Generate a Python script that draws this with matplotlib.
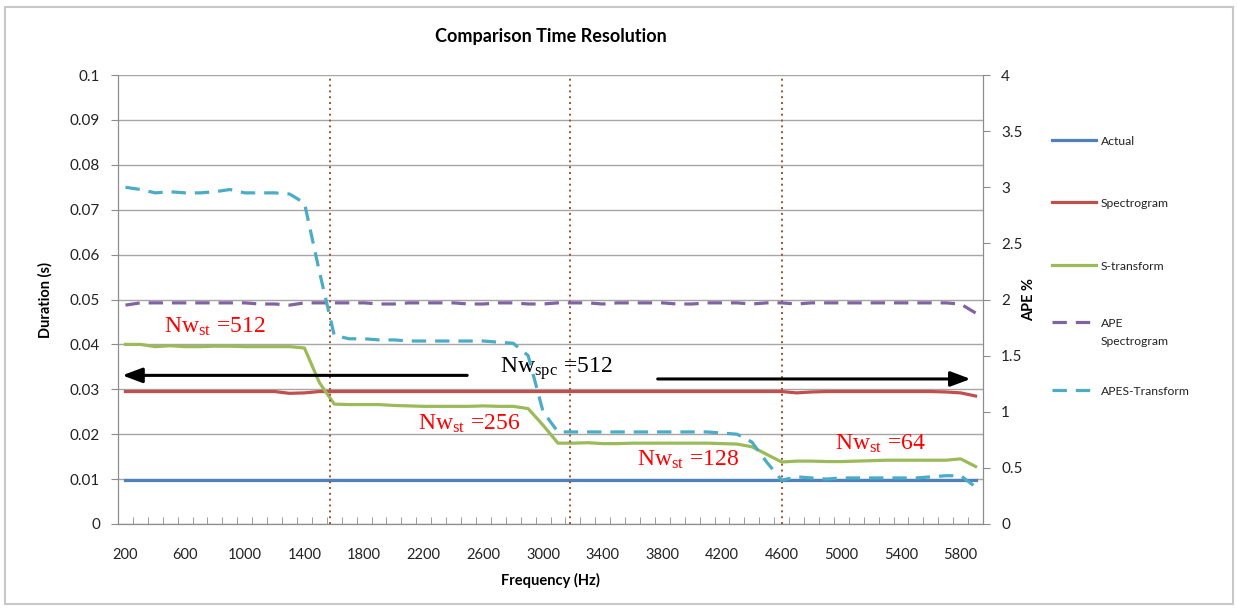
"""
Comparison of time resolution: spectrogram vs S-transform
"""
import matplotlib
matplotlib.use('Agg')
import matplotlib.pyplot as plt
from matplotlib.lines import Line2D
from matplotlib.patches import Rectangle

plt.rcParams['font.family'] = ['Lato', 'DejaVu Sans']
plt.rcParams['mathtext.fontset'] = 'stix'

# Frequency categories (Hz)
freq = [200, 300, 400, 500, 600, 700, 800, 900, 1000, 1100,
        1200, 1300, 1400, 1500, 1600, 1700, 1800, 1900, 2000, 2100,
        2200, 2300, 2400, 2500, 2600, 2700, 2800, 2900, 3000, 3100,
        3200, 3300, 3400, 3500, 3600, 3700, 3800, 3900, 4000, 4100,
        4200, 4300, 4400, 4500, 4600, 4700, 4800, 4900, 5000, 5100,
        5200, 5300, 5400, 5500, 5600, 5700, 5800, 5900]

# Duration (s), left axis
actual = [0.0097] * 58
spectrogram = [0.0295, 0.0295, 0.0295, 0.0295, 0.0295, 0.0295, 0.0295, 0.0295, 0.0295, 0.0295,
               0.0295, 0.0291, 0.0292, 0.0295, 0.0295, 0.0295, 0.0295, 0.0295, 0.0295, 0.0295,
               0.0295, 0.0295, 0.0295, 0.0295, 0.0295, 0.0295, 0.0295, 0.0295, 0.0295, 0.0295,
               0.0295, 0.0295, 0.0295, 0.0295, 0.0295, 0.0295, 0.0295, 0.0295, 0.0295, 0.0295,
               0.0295, 0.0295, 0.0295, 0.0295, 0.0295, 0.0292, 0.0294, 0.0295, 0.0295, 0.0295,
               0.0295, 0.0295, 0.0295, 0.0295, 0.0295, 0.0294, 0.0292, 0.0285]
s_transform = [0.0400, 0.0400, 0.0395, 0.0397, 0.0395, 0.0395, 0.0396, 0.0396, 0.0395, 0.0395,
               0.0395, 0.0395, 0.0392, 0.0315, 0.0267, 0.0266, 0.0266, 0.0266, 0.0264, 0.0263,
               0.0262, 0.0262, 0.0262, 0.0262, 0.0263, 0.0262, 0.0262, 0.0257, 0.0220, 0.0180,
               0.0180, 0.0181, 0.0179, 0.0179, 0.0180, 0.0180, 0.0180, 0.0180, 0.0180, 0.0180,
               0.0179, 0.0178, 0.0172, 0.0155, 0.0138, 0.0140, 0.0140, 0.0139, 0.0139, 0.0140,
               0.0141, 0.0142, 0.0142, 0.0142, 0.0142, 0.0142, 0.0145, 0.0128]

# APE (%), right axis
ape_spectrogram = [1.95, 1.97, 1.97, 1.97, 1.97, 1.97, 1.97, 1.97, 1.97, 1.96,
                   1.96, 1.95, 1.97, 1.97, 1.97, 1.97, 1.97, 1.96, 1.96, 1.97,
                   1.97, 1.97, 1.97, 1.96, 1.96, 1.97, 1.97, 1.96, 1.96, 1.97,
                   1.97, 1.97, 1.96, 1.97, 1.97, 1.97, 1.97, 1.96, 1.96, 1.97,
                   1.97, 1.97, 1.96, 1.97, 1.97, 1.96, 1.97, 1.97, 1.97, 1.97,
                   1.97, 1.97, 1.97, 1.97, 1.97, 1.97, 1.96, 1.88]
apes_transform = [3.00, 2.98, 2.95, 2.96, 2.95, 2.95, 2.96, 2.98, 2.95, 2.95,
                  2.95, 2.94, 2.86, 2.25, 1.68, 1.65, 1.65, 1.64, 1.64, 1.63,
                  1.63, 1.63, 1.63, 1.63, 1.63, 1.62, 1.61, 1.50, 1.00, 0.82,
                  0.82, 0.82, 0.82, 0.82, 0.82, 0.82, 0.82, 0.82, 0.82, 0.82,
                  0.81, 0.80, 0.73, 0.55, 0.39, 0.42, 0.41, 0.40, 0.41, 0.41,
                  0.41, 0.41, 0.41, 0.41, 0.42, 0.43, 0.43, 0.33]

left_ticks = [0, 0.01, 0.02, 0.03, 0.04, 0.05, 0.06, 0.07, 0.08, 0.09, 0.1]
left_labels = ['0', '0.01', '0.02', '0.03', '0.04', '0.05', '0.06', '0.07', '0.08', '0.09', '0.1']
right_ticks = [0, 0.5, 1, 1.5, 2, 2.5, 3, 3.5, 4]
right_labels = ['0', '0.5', '1', '1.5', '2', '2.5', '3', '3.5', '4']
x_labels = [200, 600, 1000, 1400, 1800, 2200, 2600, 3000, 3400, 3800, 4200, 4600, 5000, 5400, 5800]
boundaries = [1570, 3180, 4600]
legend_labels = ['Actual', 'Spectrogram', 'S-transform', 'APE\nSpectrogram', 'APES-Transform']

blue, red, green, purple, cyan = '#4F81BD', '#C0504D', '#9BBB59', '#8064A2', '#4BACC6'
axis_col = '#8C8C8C'
W, H = 1237, 608

fig = plt.figure(figsize=(12.37, 6.08), dpi=100)
fig.add_artist(Rectangle((0.004, 0.006), 0.993, 0.982, transform=fig.transFigure,
                         fill=False, edgecolor='#C8C8C8', lw=1.5))
ax = fig.add_axes([0.0954, 0.1382, 0.6993, 0.7384])

ax.plot(freq, actual, color=blue, lw=2.3)
ax.plot(freq, spectrogram, color=red, lw=2.3)
ax.plot(freq, s_transform, color=green, lw=2.3)

ax.set_xlim(150, 5950)
ax.set_ylim(0, 0.1)
ax.set_yticks(left_ticks)
ax.set_yticklabels(left_labels)
ax.set_xticks(x_labels)
ax.set_xticklabels([str(v) for v in x_labels])
ax.set_xticks([150 + 100 * k for k in range(59)], minor=True)
ax.tick_params(axis='x', which='major', length=0, pad=17, labelsize=10.5, colors='#222222')
ax.tick_params(axis='x', which='minor', direction='in', length=5, color=axis_col)
ax.tick_params(axis='y', length=5, color=axis_col, labelsize=11, labelcolor='#222222', pad=8)
ax.grid(axis='y', color='#A6A6A6', lw=1)
ax.set_axisbelow(True)
for s in ['left', 'bottom', 'right']:
    ax.spines[s].set_color(axis_col)
ax.spines['top'].set_visible(False)

for b in boundaries:
    ax.axvline(b, color='#A0522D', ls=(0, (1, 2)), lw=1.4)

ax.set_xlabel('Frequency (Hz)', fontweight='bold', fontsize=10.5, labelpad=8)
ax.set_ylabel('Duration (s)', fontweight='bold', fontsize=10.5, labelpad=12)
ax.set_title('Comparison Time Resolution', fontweight='bold', fontsize=13, pad=24)

ax2 = ax.twinx()
ax2.plot(freq, ape_spectrogram, color=purple, lw=2.3, dashes=(4.5, 2.8))
ax2.plot(freq, apes_transform, color=cyan, lw=2.3, dashes=(4.5, 2.8))
ax2.set_ylim(0, 4)
ax2.set_yticks(right_ticks)
ax2.set_yticklabels(right_labels)
ax2.tick_params(axis='y', length=5, color=axis_col, labelsize=11, labelcolor='#222222', pad=8)
ax2.set_ylabel('APE %', fontweight='bold', fontsize=10.5, labelpad=0)
for s in ['left', 'bottom', 'right']:
    ax2.spines[s].set_color(axis_col)
ax2.spines['top'].set_visible(False)

# arrows and window size annotations
ax.annotate('', xy=(160, 0.0331), xytext=(2510, 0.0331),
            arrowprops=dict(arrowstyle='-|>,head_length=1.2,head_width=0.45', color='black', lw=2.2))
ax.annotate('', xy=(5885, 0.0323), xytext=(3750, 0.0323),
            arrowprops=dict(arrowstyle='-|>,head_length=1.2,head_width=0.45', color='black', lw=2.2))
serif = ['Liberation Serif', 'DejaVu Serif']
ax.text(2710, 0.0347, r'Nw$_{\mathregular{spc}}$ =512', fontsize=17, family=serif, va='center')
ax.text(460, 0.0440, r'Nw$_{\mathregular{st}}$ =512', fontsize=17, family=serif, color='red', va='center')
ax.text(2160, 0.0222, r'Nw$_{\mathregular{st}}$ =256', fontsize=17, family=serif, color='red', va='center')
ax.text(3630, 0.0142, r'Nw$_{\mathregular{st}}$ =128', fontsize=17, family=serif, color='red', va='center')
ax.text(4960, 0.0178, r'Nw$_{\mathregular{st}}$ =64', fontsize=17, family=serif, color='red', va='center')

# legend drawn by hand to follow the spreadsheet layout
legend_styles = [dict(color=blue), dict(color=red), dict(color=green),
                 dict(color=purple, dashes=(4.5, 2.8)), dict(color=cyan, dashes=(4.5, 2.8))]
legend_y = [140, 202, 265, 322, 390]
for lab, sty, yy in zip(legend_labels, legend_styles, legend_y):
    fy = 1 - yy / H
    fig.add_artist(Line2D([1052 / W, 1096 / W], [fy, fy], lw=2.3, transform=fig.transFigure, **sty))
    fig.text(1101 / W, fy + 0.006, lab, fontsize=8.7, va='top', linespacing=1.75, color='#222222')

fig.savefig('out.png', dpi=100)
